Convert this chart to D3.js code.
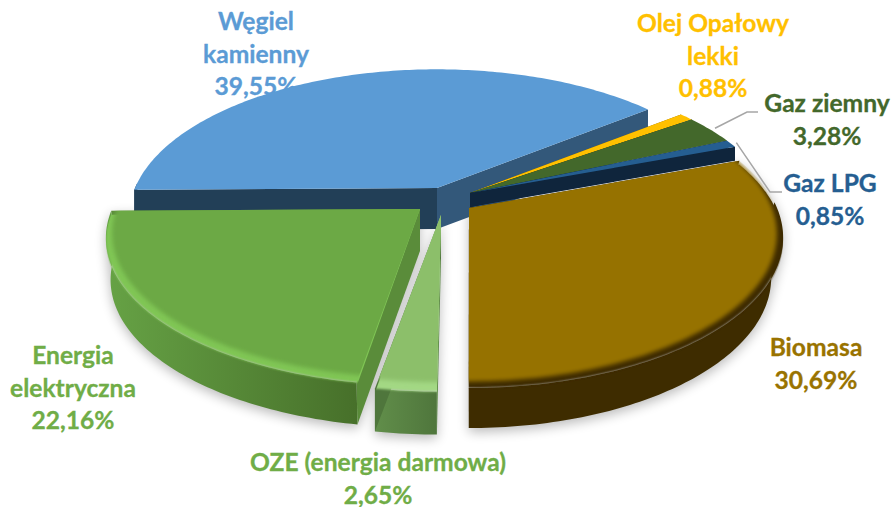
<!DOCTYPE html>
<html lang="pl"><head><meta charset="utf-8">
<script src="https://cdnjs.cloudflare.com/ajax/libs/d3/7.8.5/d3.min.js"></script>
<style>html,body{margin:0;padding:0;background:#fff}svg{display:block}text{font-family:Lato,"Open Sans",sans-serif;font-weight:700}</style>
</head><body><svg id="c" width="893" height="507"></svg>
<script>
// ---- data ----
const categories = ["Węgiel kamienny","Olej Opałowy lekki","Gaz ziemny","Gaz LPG","Biomasa","OZE (energia darmowa)","Energia elektryczna"];
const values = [39.55,0.88,3.28,0.85,30.69,2.65,22.16];
const valueLabels = ["39,55%","0,88%","3,28%","0,85%","30,69%","2,65%","22,16%"];
const labelLines = [["Węgiel","kamienny"],["Olej Opałowy","lekki"],["Gaz ziemny"],["Gaz LPG"],["Biomasa"],["OZE (energia darmowa)"],["Energia","elektryczna"]];

// ---- layout and style (per slice, same order as the data) ----
const apexX = [437,470,470,470,469,441,420];
const apexY = [188,193,193,193,208,215,209];
const scaleX = [1,1,1,1,1.02,1,1.02];
const scaleY = [1,1,1,1,1.02,1,1];
const shearX = [0,0,0,0,0,0.022,0];
const depth  = [41,14,14,14,40,43,42];
const wallShrink = [1,1,1,1,0.962,1,0.985];
const topColor  = ["#5B9BD5","#FFC000","#43682B","#255E91","#967200","#8CBF6A","#6CA945"];
const rimColor  = [null,null,null,null,"#3E2C00","#A3D884","#80C655"];
const rimFactor = [1,1,1,1,0.98,0.98,0.98];
const rimShift  = [0,0,0,0,3,6,4];
const wallLeft  = ["#223F57","#7f6000","#27401a","#0F253C","#3E2C00","#618E4A","#66A245"];
const wallRight = ["#223F57","#7f6000","#27401a","#0F253C","#3E2C00","#4F763C","#47702A"];
const cutStart  = ["#223F57","#7f6000","#27401a","#0F253C","#3E2C00","#618E4A","#5A8C3A"];
const cutEnd    = ["#33587A","#7f6000","#1d3013","#0F253C","#3E2C00","#4F763C","#5A8C3A"];
const labelColor= ["#5B9BD5","#FFC000","#43682B","#255E91","#997300","#70AD47","#70AD47"];
const labelX = [256,713,827,830,816,378,73];
const labelY = [30,32,112,192,356,471,364];
const lineStep = 32.5;
const fontSize = 24.6;
const paintOrder = [0,1,2,3,4,6,5];
const radius = 302, tilt = 0.47, persp = 0.196;
const leaders = [{i:2,elbowDX:-80,endDX:-69},{i:3,elbowDX:-60,endDX:-48}];

// ---- geometry ----
const svg = d3.select("#c");
const defs = svg.append("defs");
const blur = (id,s)=>defs.append("filter").attr("id",id).attr("x","-20%").attr("y","-20%").attr("width","140%").attr("height","140%")
  .append("feGaussianBlur").attr("stdDeviation",s);
blur("soft",2.2); blur("edge",1.1); blur("shadow",6);

const arcs = d3.pie().sort(null).startAngle(-90.7*Math.PI/180).endAngle(269.3*Math.PI/180)(values);
const arcsByIndex = d3.range(values.length).map(i=>arcs.find(a=>a.index===i));

function project(i,theta,f=1){
  const s = 1/(1+persp*Math.cos(theta));
  const dy = -radius*f*tilt*Math.cos(theta)*s*scaleY[i];
  return [apexX[i]+radius*f*Math.sin(theta)*s*scaleX[i]-shearX[i]*dy, apexY[i]+dy];
}
function angles(a,b){
  const n = Math.max(4,Math.ceil((b-a)*60));
  return d3.range(n+1).map(k=>a+(b-a)*k/n);
}
const arcPts = (i,a,b,f=1)=>angles(a,b).map(t=>project(i,t,f));
const line = d3.line();
const closed = pts=>line(pts)+"Z";
// lower outline of a slice: moved down by its depth and drawn slightly in towards the apex
const down = (i,pts)=>pts.map(p=>[apexX[i]+(p[0]-apexX[i])*wallShrink[i],p[1]+depth[i]]);

function wedge(i){ const a=arcsByIndex[i]; return [[apexX[i],apexY[i]],...arcPts(i,a.startAngle,a.endAngle)]; }
function silhouette(i){
  const w = wedge(i);
  return d3.polygonHull([...w,...down(i,w)]);
}

// labels first: the pie lies over them
const lab = svg.append("g");
values.forEach((v,i)=>{
  const t = lab.append("text").attr("text-anchor","middle").attr("fill",labelColor[i]).attr("font-size",fontSize)
    .attr("stroke",labelColor[i]).attr("stroke-width",0.3);
  [...labelLines[i],valueLabels[i]].forEach((s,k)=>{
    t.append("tspan").attr("x",labelX[i]).attr("y",labelY[i]+k*lineStep).text(s);
  });
});

// soft shadow
svg.append("g").attr("filter","url(#shadow)").attr("fill","#000").attr("opacity",0.27)
  .selectAll("path").data([4,5,6]).join("path").attr("d",i=>closed(silhouette(i))).attr("transform","translate(0,4)");

// slices
paintOrder.forEach(i=>{
  const a = arcsByIndex[i], g = svg.append("g");
  const outer = arcPts(i,a.startAngle,a.endAngle);
  const lower = down(i,outer);
  const apex = [apexX[i],apexY[i]], apexLow = [apex[0],apex[1]+depth[i]];
  const xs = outer.map(p=>p[0]);
  const gid = "wall"+i;
  const lg = defs.append("linearGradient").attr("id",gid).attr("gradientUnits","userSpaceOnUse")
    .attr("x1",d3.min(xs)).attr("x2",d3.max(xs)).attr("y1",0).attr("y2",0);
  lg.append("stop").attr("offset",0).attr("stop-color",wallLeft[i]);
  lg.append("stop").attr("offset",1).attr("stop-color",wallRight[i]);
  // outer wall: only the part of the rim that faces the viewer
  const front = angles(a.startAngle,a.endAngle).filter(t=>Math.cos(t)<0.05).map(t=>project(i,t));
  if(front.length>1)
    g.append("path").attr("d",closed([...front,...down(i,front).reverse()])).attr("fill",`url(#${gid})`);
  g.append("path").attr("d",closed([apex,outer[0],lower[0],apexLow])).attr("fill",cutStart[i]);
  const last = outer.length-1;
  g.append("path").attr("d",closed([apex,outer[last],lower[last],apexLow])).attr("fill",cutEnd[i]);
  if(rimColor[i]){
    const mid=(a.startAngle+a.endAngle)/2;
    const back=[apex[0]-40*Math.sin(mid),apex[1]+40*Math.cos(mid)*0.6];
    // rim: soft towards the wall, kept sharp along the two cut edges
    const cidR="clipR"+i;
    defs.append("clipPath").attr("id",cidR).append("path")
      .attr("d",closed([apex,...outer.map(p=>[p[0],p[1]+4])]));
    g.append("g").attr("clip-path",`url(#${cidR})`).append("path")
      .attr("filter","url(#edge)").attr("fill",rimColor[i])
      .attr("d",closed([back,...arcPts(i,a.startAngle-0.25,a.endAngle+0.25)]));
    // face: soft towards the rim
    const cid="clip"+i;
    defs.append("clipPath").attr("id",cid).append("path").attr("d",closed(wedge(i)));
    const inner=arcPts(i,a.startAngle-0.25,a.endAngle+0.25,rimFactor[i]).map(p=>[p[0],p[1]-rimShift[i]]);
    g.append("g").attr("clip-path",`url(#${cid})`).append("path")
      .attr("filter","url(#soft)").attr("fill",topColor[i]).attr("d",closed([back,...inner]));
  } else {
    g.append("path").attr("d",closed(wedge(i))).attr("fill",topColor[i]);
  }
});

// leader lines
leaders.forEach(({i,elbowDX,endDX})=>{
  const a = arcsByIndex[i], mid=(a.startAngle+a.endAngle)/2;
  const start = project(i,mid,1.02);
  const by = labelY[i];
  svg.append("path").attr("fill","none").attr("stroke","#A6A6A6").attr("stroke-width",1.5)
    .attr("d",line([start,[labelX[i]+elbowDX,by],[labelX[i]+endDX,by]]));
});
</script></body></html>
